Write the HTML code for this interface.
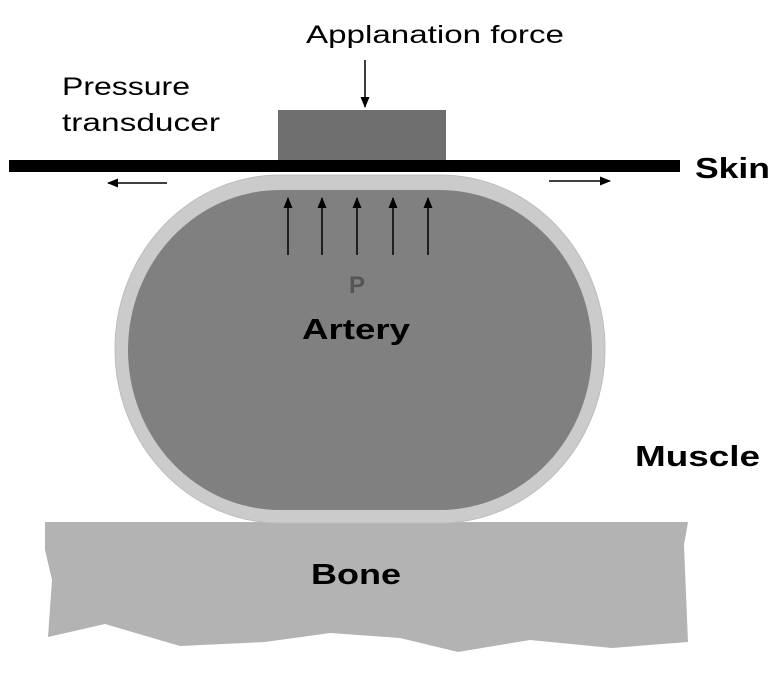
<!DOCTYPE html>
<html><head><style>
html,body{margin:0;padding:0;background:#fff;}
svg{display:block;}
text{font-family:"Liberation Sans",Arial,sans-serif;}
</style></head><body>
<svg width="784" height="691" viewBox="0 0 784 691" xmlns="http://www.w3.org/2000/svg">
<defs>
<marker id="ah" markerWidth="12" markerHeight="12" refX="10" refY="6" orient="auto" markerUnits="userSpaceOnUse">
<path d="M0,1.5 L11,6 L0,10.5 Z" fill="#000"/>
</marker>
</defs>
<!-- bone -->
<path d="M45,522 L688,522 L684,545 L688,642 L612,648 L530,640 L458,652 L400,638 L330,633 L265,642 L180,646 L105,624 L48,637 L52,580 L45,550 Z" fill="#b3b3b3"/>
<!-- artery -->
<rect x="115" y="175" width="490" height="348" rx="165" ry="174" fill="#cbcbcb" stroke="#bdbdbd" stroke-width="1"/>
<rect x="128" y="190" width="464" height="320" rx="152" ry="160" fill="#808080"/>
<!-- skin -->
<rect x="278" y="110" width="168" height="51" fill="#6e6e6e"/>
<rect x="9" y="160" width="671" height="12" fill="#000"/>
<!-- arrows -->
<line x1="365" y1="60" x2="365" y2="107" stroke="#000" stroke-width="1.5" marker-end="url(#ah)"/>
<line x1="167" y1="183" x2="108" y2="183" stroke="#000" stroke-width="1.5" marker-end="url(#ah)"/>
<line x1="549" y1="181" x2="610" y2="181" stroke="#000" stroke-width="1.5" marker-end="url(#ah)"/>
<g stroke="#000" stroke-width="1.5">
<line x1="288" y1="255" x2="288" y2="198" marker-end="url(#ah)"/>
<line x1="322" y1="255" x2="322" y2="198" marker-end="url(#ah)"/>
<line x1="357" y1="255" x2="357" y2="198" marker-end="url(#ah)"/>
<line x1="393" y1="255" x2="393" y2="198" marker-end="url(#ah)"/>
<line x1="428" y1="255" x2="428" y2="198" marker-end="url(#ah)"/>
</g>
<!-- labels -->
<text x="435" y="43" font-size="25" text-anchor="middle" textLength="258" lengthAdjust="spacingAndGlyphs">Applanation force</text>
<text x="62" y="95" font-size="25" textLength="128" lengthAdjust="spacingAndGlyphs">Pressure</text>
<text x="62" y="131" font-size="25" textLength="158" lengthAdjust="spacingAndGlyphs">transducer</text>
<text x="695" y="178" font-size="29" font-weight="bold" textLength="75" lengthAdjust="spacingAndGlyphs">Skin</text>
<text x="357" y="293" font-size="24" font-weight="bold" fill="#555" text-anchor="middle">P</text>
<text x="356" y="339" font-size="29" font-weight="bold" text-anchor="middle" textLength="108" lengthAdjust="spacingAndGlyphs">Artery</text>
<text x="635" y="466" font-size="29" font-weight="bold" textLength="125" lengthAdjust="spacingAndGlyphs">Muscle</text>
<text x="356" y="584" font-size="29" font-weight="bold" text-anchor="middle" textLength="90" lengthAdjust="spacingAndGlyphs">Bone</text>
</svg>
</body></html>
